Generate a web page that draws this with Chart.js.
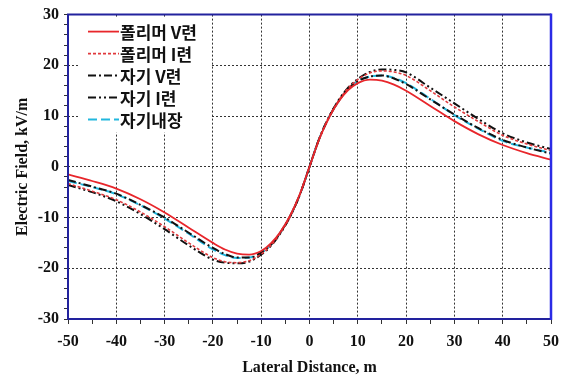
<!DOCTYPE html>
<html>
<head>
<meta charset="utf-8">
<script src="https://cdn.jsdelivr.net/npm/chart.js@4.4.1/dist/chart.umd.min.js"></script>
<style>
	html, body { margin: 0; padding: 0; background: #fff; }
	#wrap { width: 568px; height: 380px; }
</style>
</head>
<body>
<div id="wrap"><canvas id="fieldChart" width="568" height="380"></canvas></div>
<script>
// lateral distance from the line centre, m
const distances = [-50, -45, -40, -35, -30, -25, -20, -17.5, -15, -12.5, -10, -8, -6, -4, -2, 0,
	2, 4, 6, 8, 10, 12.5, 15, 17.5, 20, 25, 30, 35, 40, 45, 50];

// electric field, kV/m
const polymerV = [-1.5, -2.8, -4.3, -6.4, -9.0, -12.0, -15.0, -16.3, -17.1, -17.3, -16.6, -15.1, -12.8, -9.6, -5.4, 0,
	5.4, 9.6, 12.8, 15.1, 16.5, 17.2, 17.0, 16.2, 15.0, 12.0, 9.0, 6.4, 4.3, 2.7, 1.4];
const polymerI = [-3.3, -4.8, -6.5, -8.9, -11.8, -15.0, -17.9, -18.7, -18.9, -18.5, -17.2, -15.5, -13.0, -9.8, -5.5, 0,
	5.5, 9.8, 13.0, 15.5, 17.2, 18.5, 18.9, 18.7, 18.0, 15.0, 11.8, 8.9, 6.2, 4.5, 3.2];
const porcelainV = [-2.6, -3.9, -5.3, -7.5, -10.0, -13.0, -16.0, -17.2, -17.9, -17.9, -16.9, -15.4, -12.9, -9.7, -5.5, 0,
	5.5, 9.7, 12.9, 15.4, 16.9, 17.8, 18.0, 17.4, 16.3, 13.3, 10.3, 7.6, 5.3, 3.8, 2.6];
const porcelainI = [-3.6, -5.0, -6.8, -9.3, -12.3, -15.5, -18.3, -18.9, -19.0, -18.7, -17.3, -15.6, -13.1, -9.8, -5.5, 0,
	5.5, 9.8, 13.1, 15.6, 17.3, 18.7, 19.2, 19.1, 18.6, 15.6, 12.5, 9.4, 6.6, 4.8, 3.5];
const porcelainBuiltIn = [-2.8, -4.0, -5.4, -7.6, -10.2, -13.2, -16.3, -17.4, -18.0, -17.9, -16.9, -15.4, -12.9, -9.7, -5.5, 0,
	5.5, 9.7, 12.9, 15.4, 16.9, 17.8, 18.0, 17.5, 16.5, 13.4, 10.2, 7.5, 5.1, 3.8, 2.8];

const seriesLabels = ["폴리머 V련", "폴리머 I련", "자기 V련", "자기 I련", "자기내장"];

const AXIS_FONT = "'Liberation Serif', 'Times New Roman', serif";

function toPoints(values) {
	return distances.map((x, i) => ({ x: x, y: values[i] }));
}

function makeDataset(label, values, color, dash, width) {
	return {
		label: label,
		data: toPoints(values),
		borderColor: color,
		borderDash: dash,
		borderWidth: width,
		pointRadius: 0,
		fill: false,
		cubicInterpolationMode: "monotone",
	};
}

// white box with the series keys, top-left inside the plot, plus the blue frame
const insideLegend = {
	id: "insideLegend",
	beforeDatasetsDraw(chart) {
		const { ctx, chartArea } = chart;
		ctx.save();
		ctx.fillStyle = "#fff";
		ctx.fillRect(chartArea.left + 10, chartArea.top + 3, 134, 115);
		ctx.restore();
	},
	afterDatasetsDraw(chart) {
		const { ctx, chartArea } = chart;
		ctx.save();
		chart.data.datasets.forEach((ds, i) => {
			const y = chartArea.top + 17 + i * 22;
			const x0 = chartArea.left + 20;
			ctx.strokeStyle = ds.borderColor;
			ctx.lineWidth = ds.borderWidth;
			ctx.setLineDash(ds.borderDash || []);
			ctx.beginPath();
			ctx.moveTo(x0, y);
			ctx.lineTo(x0 + 31, y);
			ctx.stroke();
			ctx.setLineDash([]);
			ctx.fillStyle = "#111";
			ctx.font = "bold 17px 'Noto Sans CJK KR'";
			ctx.textBaseline = "middle";
			ctx.fillText(ds.label, x0 + 32, y + 1);
		});
		ctx.restore();
	},
	afterDraw(chart) {
		const { ctx, chartArea } = chart;
		const { left, right, top, bottom } = chartArea;
		ctx.save();
		ctx.lineWidth = 2;
		ctx.strokeStyle = "#22229e";
		ctx.beginPath();
		ctx.moveTo(right, top);
		ctx.lineTo(left, top);
		ctx.lineTo(left, bottom);
		ctx.lineTo(right, bottom);
		ctx.stroke();
		ctx.lineWidth = 2.5;
		ctx.strokeStyle = "#2b2be6";
		ctx.beginPath();
		ctx.moveTo(right, top - 1);
		ctx.lineTo(right, bottom + 1);
		ctx.stroke();
		ctx.restore();
	},
};

function majorOnly(ctx) {
	return ctx.tick && ctx.tick.value % 10 === 0 ? "#333" : "rgba(0,0,0,0)";
}

new Chart(document.getElementById("fieldChart"), {
	type: "line",
	data: {
		datasets: [
			makeDataset(seriesLabels[0], polymerV, "#e8262b", [], 1.8),
			makeDataset(seriesLabels[1], polymerI, "#e0393c", [3, 2], 1.6),
			makeDataset(seriesLabels[2], porcelainV, "#111", [8, 3, 2, 3], 2),
			makeDataset(seriesLabels[3], porcelainI, "#111", [8, 3, 2, 3, 2, 3], 2),
			makeDataset(seriesLabels[4], porcelainBuiltIn, "#22b7de", [9, 4], 2),
		],
	},
	options: {
		responsive: false,
		animation: false,
		devicePixelRatio: 1,
		layout: { padding: { top: 12, right: 17, left: 0, bottom: 0 } },
		plugins: {
			legend: { display: false },
			tooltip: { enabled: false },
		},
		scales: {
			x: {
				type: "linear",
				min: -50,
				max: 50,
				afterFit: (scale) => { scale.height = 61; },
				ticks: {
					stepSize: 5,
					autoSkip: false,
					maxRotation: 0,
					padding: 8,
					color: "#111",
					font: { family: AXIS_FONT, size: 16, weight: "bold" },
					callback: (v) => (v % 10 === 0 ? v : ""),
				},
				grid: { color: majorOnly, lineWidth: 1, tickColor: "#333", tickLength: 5 },
				border: { display: false, dash: [2, 2] },
				title: {
					display: true,
					text: "Lateral Distance, m",
					color: "#111",
					font: { family: AXIS_FONT, size: 16, weight: "bold" },
					padding: { top: 0, bottom: 3 },
				},
			},
			y: {
				min: -30,
				max: 30,
				afterFit: (scale) => { scale.width = 68; },
				ticks: {
					stepSize: 2,
					autoSkip: false,
					padding: 5,
					color: "#111",
					font: { family: AXIS_FONT, size: 16, weight: "bold" },
					callback: (v) => (v % 10 === 0 ? v : ""),
				},
				grid: { color: majorOnly, lineWidth: 1, tickColor: "#333", tickLength: 4 },
				border: { display: false, dash: [2, 2] },
				title: {
					display: true,
					text: "Electric Field, kV/m",
					color: "#111",
					font: { family: AXIS_FONT, size: 16, weight: "bold" },
					padding: { top: 13, bottom: 0 },
				},
			},
		},
	},
	plugins: [insideLegend],
});
</script>
</body>
</html>
